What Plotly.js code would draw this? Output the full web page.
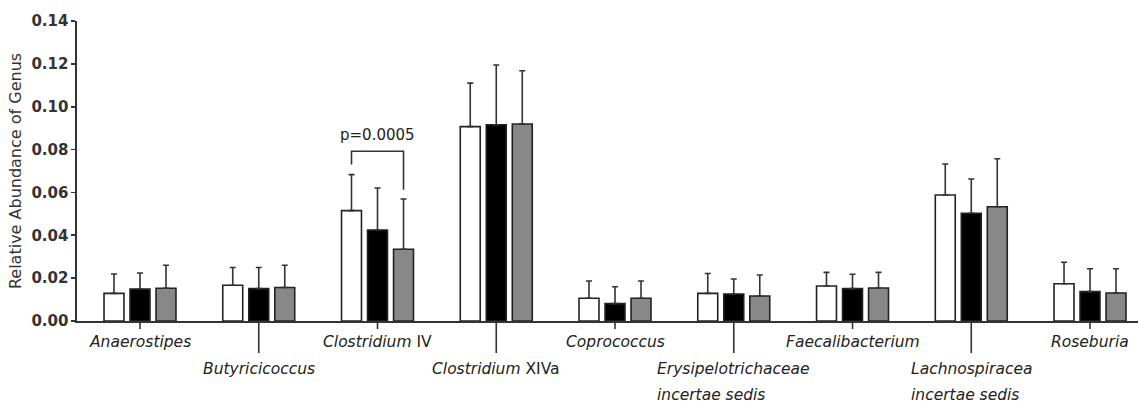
<!DOCTYPE html>
<html>
<head>
<meta charset="utf-8">
<script src="https://cdn.plot.ly/plotly-3.0.1.min.js"></script>
<style>html,body{margin:0;padding:0;background:#fff;}#chart{width:1138px;height:403px;}</style>
</head>
<body>
<div id="chart"></div>
<script>
const categories = ["Anaerostipes","Butyricicoccus","Clostridium IV","Clostridium XIVa","Coprococcus","Erysipelotrichaceae incertae sedis","Faecalibacterium","Lachnospiracea incertae sedis","Roseburia"];
const labelLines = [["<i>Anaerostipes</i>"],["<i>Butyricicoccus</i>"],["<i>Clostridium</i> IV"],["<i>Clostridium</i> XIVa"],["<i>Coprococcus</i>"],["<i>Erysipelotrichaceae</i>","<i>incertae sedis</i>"],["<i>Faecalibacterium</i>"],["<i>Lachnospiracea</i>","<i>incertae sedis</i>"],["<i>Roseburia</i>"]];
const labelRow = [1,2,1,2,1,2,1,2,1];

const whiteMean = [0.0129,0.0167,0.0515,0.0907,0.0106,0.0129,0.0163,0.0588,0.0174];
const whiteTop  = [0.0219,0.0250,0.0683,0.1110,0.0187,0.0222,0.0227,0.0733,0.0274];
const blackMean = [0.0149,0.0151,0.0425,0.0916,0.0081,0.0126,0.0151,0.0503,0.0137];
const blackTop  = [0.0224,0.0250,0.0621,0.1195,0.0160,0.0196,0.0218,0.0663,0.0244];
const grayMean  = [0.0153,0.0156,0.0335,0.0919,0.0106,0.0117,0.0154,0.0533,0.0131];
const grayTop   = [0.0260,0.0260,0.0569,0.1168,0.0187,0.0215,0.0227,0.0757,0.0244];

const yTicks = [0,0.02,0.04,0.06,0.08,0.10,0.12,0.14];
const pLabel = "p=0.0005";
const pBracket = {cat: "Clostridium IV", index: 2, y: 0.0792, leftEnd: 0.0730, rightEnd: 0.0613};

function up(mean, top){ return mean.map((m,i)=>+(top[i]-m).toFixed(4)); }
function trace(mean, top, fill){
  return {
    type:'bar', x:categories, y:mean,
    marker:{color:fill, line:{color:'#222', width:1.6}},
    error_y:{type:'data', symmetric:false, array:up(mean,top), arrayminus:mean.map(()=>0), color:'#333', thickness:1.6, width:3},
    hoverinfo:'y', showlegend:false
  };
}
const data = [trace(whiteMean,whiteTop,'#ffffff'), trace(blackMean,blackTop,'#000000'), trace(grayMean,grayTop,'#888888')];

const font = '"DejaVu Sans", sans-serif';
const lblSize = 15.5;
const shapes = [];
const annotations = [];
categories.forEach((c,i)=>{
  const len = labelRow[i]===1 ? 8 : 32;
  shapes.push({type:'line', xref:'x', yref:'paper', x0:i, x1:i, y0:0, y1:-len/300, line:{color:'#333', width:1.6}});
  const lines = labelLines[i];
  const text = lines.map(l=>`<span style="font-size:${lblSize}px">${l}</span>`).join('<br>');
  let ys = labelRow[i]===1 ? -21 : -48;
  if(lines.length===2) ys -= 13;
  annotations.push({xref:'x', yref:'paper', x:c, y:0, yshift:ys, yanchor:'middle',
    text:text, showarrow:false, font:{family:font, size:20, color:'#222'}, align:'left'});
});

// significance bracket (white bar center to gray bar center of Clostridium IV)
const off = 0.219;
const ci = pBracket.index;
shapes.push({type:'path', xref:'x', yref:'y',
  path:`M ${ci-off} ${pBracket.leftEnd} L ${ci-off} ${pBracket.y} L ${ci+off} ${pBracket.y} L ${ci+off} ${pBracket.rightEnd}`,
  line:{color:'#333', width:1.6}});
annotations.push({xref:'x', yref:'y', x:pBracket.cat, y:pBracket.y, yshift:16, text:pLabel, showarrow:false, font:{family:font, size:15, color:'#222'}});

const layout = {
  width:1138, height:403,
  margin:{l:77, r:0, t:21, b:82},
  paper_bgcolor:'#fff', plot_bgcolor:'#fff',
  barmode:'group', bargap:0.343, bargroupgap:0.233,
  xaxis:{type:'category', categoryorder:'array', categoryarray:categories, range:[-0.5305, 8.404],
    showticklabels:false, ticks:'', showline:true, linecolor:'#333', linewidth:1.6, showgrid:false, zeroline:false, fixedrange:true},
  yaxis:{range:[0,0.14], tickvals:yTicks, tickformat:'.2f', ticks:'outside', ticklen:4, tickwidth:1.6, tickcolor:'#333',
    showline:true, linecolor:'#333', linewidth:1.6, showgrid:false, zeroline:false,
    tickfont:{family:font, size:15, color:'#333', weight:'bold'},
    title:{text:'Relative Abundance of Genus', font:{family:font, size:16, color:'#333'}, standoff:6}},
  shapes:shapes, annotations:annotations
};
Plotly.newPlot('chart', data, layout, {displayModeBar:false, staticPlot:true});
</script>
</body>
</html>
